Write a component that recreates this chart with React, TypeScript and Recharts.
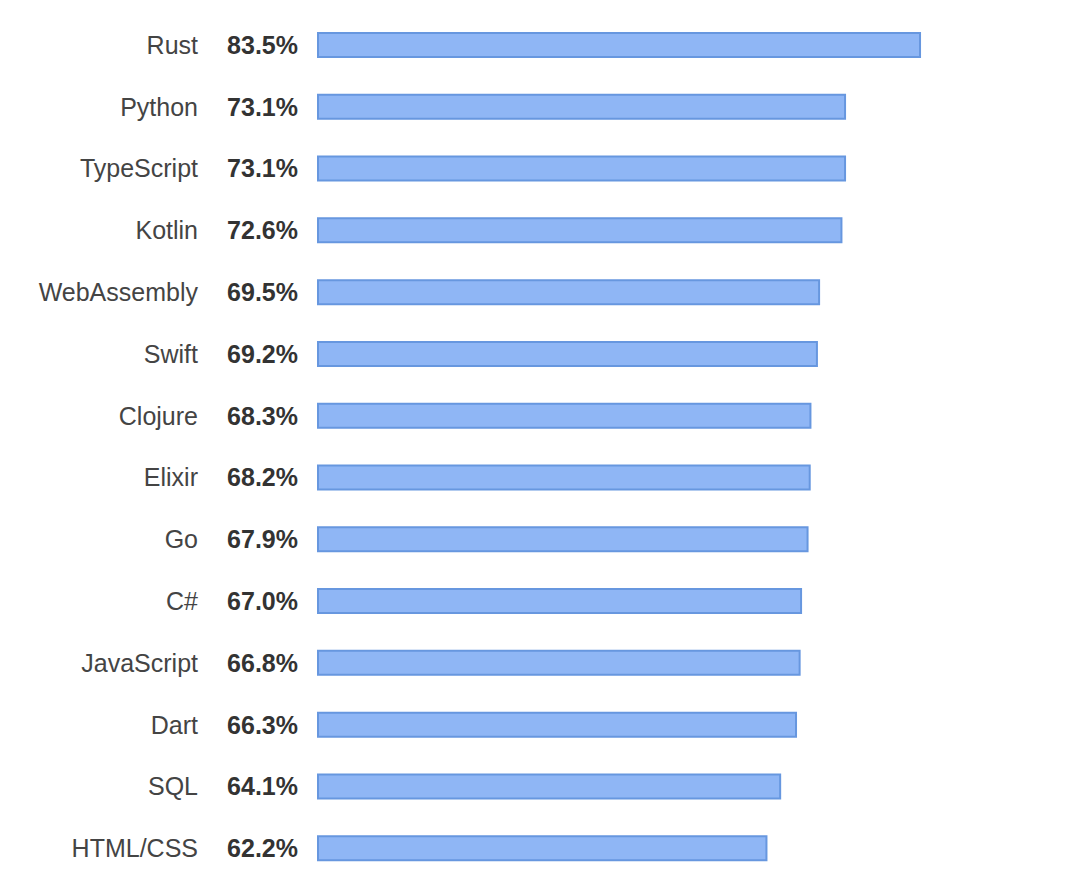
import { BarChart, Bar, XAxis, YAxis } from 'recharts';

const languages = [
  'Rust', 'Python', 'TypeScript', 'Kotlin', 'WebAssembly', 'Swift', 'Clojure',
  'Elixir', 'Go', 'C#', 'JavaScript', 'Dart', 'SQL', 'HTML/CSS',
];
const lovedShare = [83.5, 73.1, 73.1, 72.6, 69.5, 69.2, 68.3, 68.2, 67.9, 67.0, 66.8, 66.3, 64.1, 62.2];

const data = languages.map((name, i) => ({ name, value: lovedShare[i] }));

// name on the left, bold percentage next to the bar
function LangTick(props: any) {
  const { x, y, payload } = props;
  const value = lovedShare[payload.index];
  return (
    <g>
      <text x={x - 114} y={y} dy={9} textAnchor="end" fontSize={25} fill="#444"
        fontFamily="'Liberation Sans', Arial, sans-serif">
        {payload.value}
      </text>
      <text x={x - 14} y={y} dy={9} textAnchor="end" fontSize={25} fontWeight="bold" fill="#333"
        fontFamily="'Liberation Sans', Arial, sans-serif">
        {value.toFixed(1)}%
      </text>
    </g>
  );
}

export default function App() {
  return (
    <div style={{ background: '#fff' }}>
      <BarChart
        width={1060}
        height={872}
        data={data}
        layout="vertical"
        margin={{ top: 6, right: 29, bottom: 1, left: 0 }}
      >
        <XAxis type="number" domain={[0, 100]} hide />
        <YAxis
          type="category"
          dataKey="name"
          width={310}
          axisLine={false}
          tickLine={false}
          tickMargin={0}
          interval={0}
          tick={<LangTick />}
        />
        <Bar
          dataKey="value"
          barSize={24}
          fill="#8fb6f5"
          stroke="#6797df"
          strokeWidth={2}
          isAnimationActive={false}
        />
      </BarChart>
    </div>
  );
}
